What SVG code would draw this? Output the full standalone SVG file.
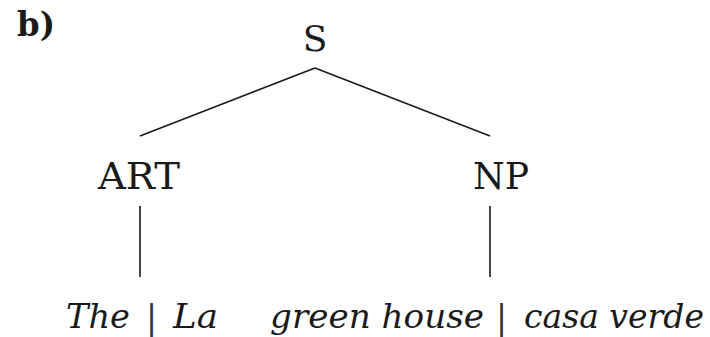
<svg xmlns="http://www.w3.org/2000/svg" width="710" height="337" viewBox="0 0 710 337">
<style>
.t{fill:#1a1a1a}
.i{font-style:italic}
.bar{fill:#333}
.e{stroke:#1a1a1a;stroke-width:1.6;fill:none}
</style>
<rect width="710" height="337" fill="#fff"/>
<g font-family="DejaVu Serif, serif">
<text class="t" x="17" y="36" font-weight="bold" font-size="33" textLength="38" lengthAdjust="spacingAndGlyphs">b)</text>
<g id="S"><text class="t" x="315" y="51" text-anchor="middle" font-size="36">S</text></g>
<g id="ART"><text class="t" x="98" y="189" textLength="82" lengthAdjust="spacingAndGlyphs" font-size="37">ART</text></g>
<g id="NP"><text class="t" x="473" y="189" textLength="56" lengthAdjust="spacingAndGlyphs" font-size="37">NP</text></g>
<g id="w1"><text class="t i" x="66" y="328" textLength="64" lengthAdjust="spacingAndGlyphs" font-size="34">The</text><text class="bar" x="146" y="329" font-size="33" font-weight="200">|</text><text class="t i" x="173" y="328" textLength="45" lengthAdjust="spacingAndGlyphs" font-size="34">La</text></g>
<g id="w2"><text class="t i" x="270" y="328" textLength="214" lengthAdjust="spacingAndGlyphs" font-size="34">green house</text><text class="bar" x="496" y="329" font-size="33" font-weight="200">|</text><text class="t i" x="524" y="328" textLength="180" lengthAdjust="spacingAndGlyphs" font-size="34">casa verde</text></g>
</g>
<g id="edges">
<path class="e" d="M315 68 L140 136 M315 68 L490 136 M140 206 V277 M490 206 V277"/>
</g>
</svg>
